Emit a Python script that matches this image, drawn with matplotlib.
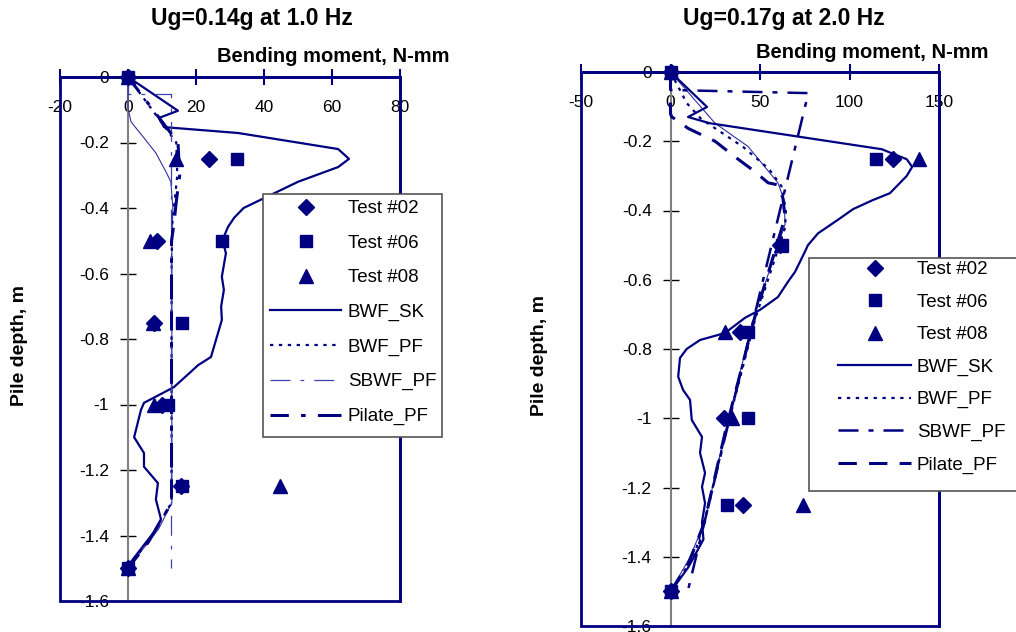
import matplotlib
matplotlib.use("Agg")
import matplotlib.pyplot as plt
from matplotlib.patches import Rectangle
from matplotlib.ticker import FormatStrFormatter

plt.rcParams['font.family'] = ['Liberation Sans', 'DejaVu Sans']
plt.rcParams['axes.unicode_minus'] = False

NAVY = '#000080'

# measured depths of the gauges
depth = [0, -0.25, -0.5, -0.75, -1.0, -1.25, -1.5]

# --- Ug=0.14g at 1.0 Hz ---
t02_a = [0, 23.8, 8.5, 7.6, 10.0, 15.5, 0]
t06_a = [0, 32.0, 27.6, 16.0, 11.8, 16.0, 0]
t08_a = [0, 14.1, 6.5, 7.4, 7.6, 44.7, 0]

sk_a_x = [0, 14.7, 9.1, 10.6, 32.4, 61.8, 65.0, 61.8, 50, 42, 34, 31.2, 29.4, 27.8, 28.8,
          27.6, 28.2, 27.4, 27.6, 24.4, 20.6, 18.5, 13.5, 4.7, 3.8, 1.8, 4.7, 4.7, 8.8,
          8.2, 9.7, 7.6, 0.9, 0]
sk_a_y = [0, -0.103, -0.125, -0.153, -0.171, -0.220, -0.250, -0.275, -0.32, -0.36, -0.40,
          -0.43, -0.458, -0.498, -0.538, -0.61, -0.65, -0.70, -0.742, -0.855, -0.88, -0.90,
          -0.947, -0.995, -1.017, -1.10, -1.148, -1.19, -1.24, -1.29, -1.35, -1.39, -1.48, -1.5]
pf_a_x = [0, 14.2, 14.5, 13.0, 12.8, 12.8, 7.0, 0]
pf_a_y = [0, -0.2, -0.3, -0.45, -0.6, -1.3, -1.4, -1.5]
sb_a_x = [0, 0, 12.6, 12.6]
sb_a_y = [0, -0.053, -0.053, -1.5]
pl_a_x = [0, 14.7, 15.2, 14.2, 13.5, 12.8, 12.8, 6.0, 0]
pl_a_y = [0, -0.2, -0.3, -0.38, -0.45, -0.5, -1.3, -1.42, -1.5]
ex_a_x = [0, 0, 0.9, 4.7, 8.2, 11.2, 12.6, 13.2, 12.9, 12.9, 9.0, 0]
ex_a_y = [0, -0.095, -0.137, -0.186, -0.232, -0.29, -0.32, -0.4, -0.5, -1.3, -1.38, -1.5]

# --- Ug=0.17g at 2.0 Hz ---
t02_b = [0, 124.3, 61.0, 38.8, 29.9, 40.5, 0]
t06_b = [0, 114.8, 62.3, 43.3, 43.3, 31.6, 0]
t08_b = [0, 139.0, 62.0, 30.4, 34.4, 74.0, 0]

sk_b_x = [0, 20.4, 9.8, 22, 118, 132, 135, 132, 122.6, 113, 102, 93.5, 82.4, 76.8, 75,
          69.6, 65.6, 60, 50, 41.6, 30.4, 16.5, 9, 5.3, 4.3, 7, 10.9, 11.9, 17.6, 16.5,
          19.3, 17.6, 19.3, 17.6, 18.4, 10, 0.8, 0]
sk_b_y = [0, -0.101, -0.13, -0.148, -0.223, -0.252, -0.274, -0.30, -0.35, -0.37, -0.396,
          -0.427, -0.466, -0.50, -0.52, -0.577, -0.606, -0.65, -0.687, -0.71, -0.754, -0.774,
          -0.80, -0.826, -0.88, -0.918, -0.947, -1.005, -1.054, -1.10, -1.158, -1.198,
          -1.245, -1.30, -1.35, -1.43, -1.496, -1.5]
pf_b_x = [0, 9.1, 17.4, 27.7, 40.7, 55, 62, 64.5, 64, 47.5, 31.5, 19.3, 13, 0]
pf_b_y = [0, -0.09, -0.137, -0.172, -0.217, -0.28, -0.33, -0.4, -0.45, -0.71, -1.03, -1.29, -1.4, -1.5]
sb_b_x = [0, 0, 77, 9.8]
sb_b_y = [0, -0.052, -0.061, -1.496]
pl_b_x = [0, 0, 0.6, 9.9, 24.9, 36, 47.2, 54.5, 60, 62.8, 64, 47, 31, 19, 10, 0]
pl_b_y = [0, -0.12, -0.129, -0.163, -0.2, -0.245, -0.288, -0.32, -0.326, -0.364, -0.42,
          -0.71, -1.03, -1.3, -1.42, -1.5]
ex_b_x = [0, 24.9, 43.3, 60, 63.5, 64, 47, 31, 19, 11, 0]
ex_b_y = [0, -0.148, -0.215, -0.32, -0.37, -0.44, -0.7, -1.03, -1.3, -1.4, -1.5]

labels = ['Test #02', 'Test #06', 'Test #08', 'BWF_SK', 'BWF_PF', 'SBWF_PF', 'Pilate_PF']
yticks = [0, -0.2, -0.4, -0.6, -0.8, -1.0, -1.2, -1.4, -1.6]

W, H = 1016, 632
fig = plt.figure(figsize=(W / 100, H / 100), dpi=100)


def px_axes(x0, y0, x1, y1):
    return fig.add_axes([x0 / W, 1 - y1 / H, (x1 - x0) / W, (y1 - y0) / H])


def style(ax, xlim, xticks):
    ax.set_xlim(xlim)
    ax.set_ylim(-1.6, 0)
    ax.set_xticks(xticks)
    ax.set_yticks(yticks)
    ax.yaxis.set_major_formatter(FormatStrFormatter('%g'))
    ax.spines['bottom'].set_position(('data', 0))
    ax.spines['left'].set_position(('data', 0))
    for s in ['bottom', 'top', 'right']:
        ax.spines[s].set_color(NAVY)
        ax.spines[s].set_linewidth(2)
    ax.spines['left'].set_color('#808080')
    ax.spines['left'].set_linewidth(1.5)
    ax.tick_params(axis='x', direction='inout', length=11, width=1.5, color=NAVY,
                   labelsize=12.5, pad=11)
    ax.tick_params(axis='y', direction='inout', length=11, width=1, color='black',
                   labelsize=12.5, pad=8)
    ax.add_patch(Rectangle((0, 0), 1, 1, transform=ax.transAxes, fill=False,
                           edgecolor=NAVY, lw=2, clip_on=False, zorder=2.6))


def draw(ax, tests, sk, pf, sb, pl, ex, sb_style, pl_style, sb_thin):
    hs = []
    for vals, m, ms in zip(tests, ['D', 's', '^'], [8, 9, 10]):
        h, = ax.plot(vals, depth, linestyle='none', marker=m, ms=ms, color=NAVY,
                     clip_on=False, zorder=4)
        hs.append(h)
    ax.plot(ex[0], ex[1], color='#3030a0', lw=0.8, zorder=3)
    h, = ax.plot(sk[0], sk[1], color=NAVY, lw=1.6, zorder=3)
    hs.append(h)
    h, = ax.plot(pf[0], pf[1], color=NAVY, lw=1.6, linestyle=(0, (1.5, 2.5)), zorder=3)
    hs.append(h)
    if sb_thin:
        h, = ax.plot(sb[0], sb[1], color='#4040b0', lw=0.9, linestyle=(0, (16, 8, 3, 8)), zorder=3)
    else:
        h, = ax.plot(sb[0], sb[1], color=NAVY, lw=1.8, linestyle=sb_style, zorder=3)
    hs.append(h)
    h, = ax.plot(pl[0], pl[1], color=NAVY, lw=2.2, linestyle=pl_style, zorder=3)
    hs.append(h)
    return hs


ax1 = px_axes(60, 77, 400, 601)
style(ax1, (-20, 80), [-20, 0, 20, 40, 60, 80])
h1 = draw(ax1, [t02_a, t06_a, t08_a], (sk_a_x, sk_a_y), (pf_a_x, pf_a_y), (sb_a_x, sb_a_y),
          (pl_a_x, pl_a_y), (ex_a_x, ex_a_y), None, (0, (6, 4, 1.5, 4, 8, 4)), True)

ax2 = px_axes(581, 72, 939, 626)
style(ax2, (-50, 150), [-50, 0, 50, 100, 150])
h2 = draw(ax2, [t02_b, t06_b, t08_b], (sk_b_x, sk_b_y), (pf_b_x, pf_b_y), (sb_b_x, sb_b_y),
          (pl_b_x, pl_b_y), (ex_b_x, ex_b_y), (0, (8, 4, 2, 4)), (0, (6, 4)), False)

# titles and axis labels
fig.text(252 / W, 1 - 19 / H, 'Ug=0.14g at 1.0 Hz', ha='center', va='center',
         fontsize=16.5, fontweight='bold')
fig.text(784 / W, 1 - 19 / H, 'Ug=0.17g at 2.0 Hz', ha='center', va='center',
         fontsize=16.5, fontweight='bold')
fig.text(333 / W, 1 - 56 / H, 'Bending moment, N-mm', ha='center', va='center',
         fontsize=14.5, fontweight='bold')
fig.text(872 / W, 1 - 53 / H, 'Bending moment, N-mm', ha='center', va='center',
         fontsize=14.5, fontweight='bold')
fig.text(20 / W, 1 - 345 / H, 'Pile depth, m', ha='center', va='center', rotation=90,
         fontsize=14, fontweight='bold')
fig.text(540 / W, 1 - 355 / H, 'Pile depth, m', ha='center', va='center', rotation=90,
         fontsize=14, fontweight='bold')

# legend boxes
for (x0, y0, x1, y1) in [(263, 194, 442, 437), (809, 258, 1030, 491)]:
    fig.add_artist(Rectangle((x0 / W, 1 - y1 / H), (x1 - x0) / W, (y1 - y0) / H,
                             transform=fig.transFigure, facecolor='white',
                             edgecolor='#555555', lw=1.2, zorder=1))

fig.legend(h1, labels, loc='upper left', bbox_to_anchor=(270 / W, 1 - 200 / H),
           frameon=False, borderpad=0, borderaxespad=0, handlelength=3.8,
           handletextpad=0.35, labelspacing=0.93, fontsize=13.5, numpoints=1)
fig.legend(h2, labels, loc='upper left', bbox_to_anchor=(838 / W, 1 - 261 / H),
           frameon=False, borderpad=0, borderaxespad=0, handlelength=3.9,
           handletextpad=0.3, labelspacing=0.82, fontsize=13.5, numpoints=1)

fig.savefig('out.png', dpi=100)
